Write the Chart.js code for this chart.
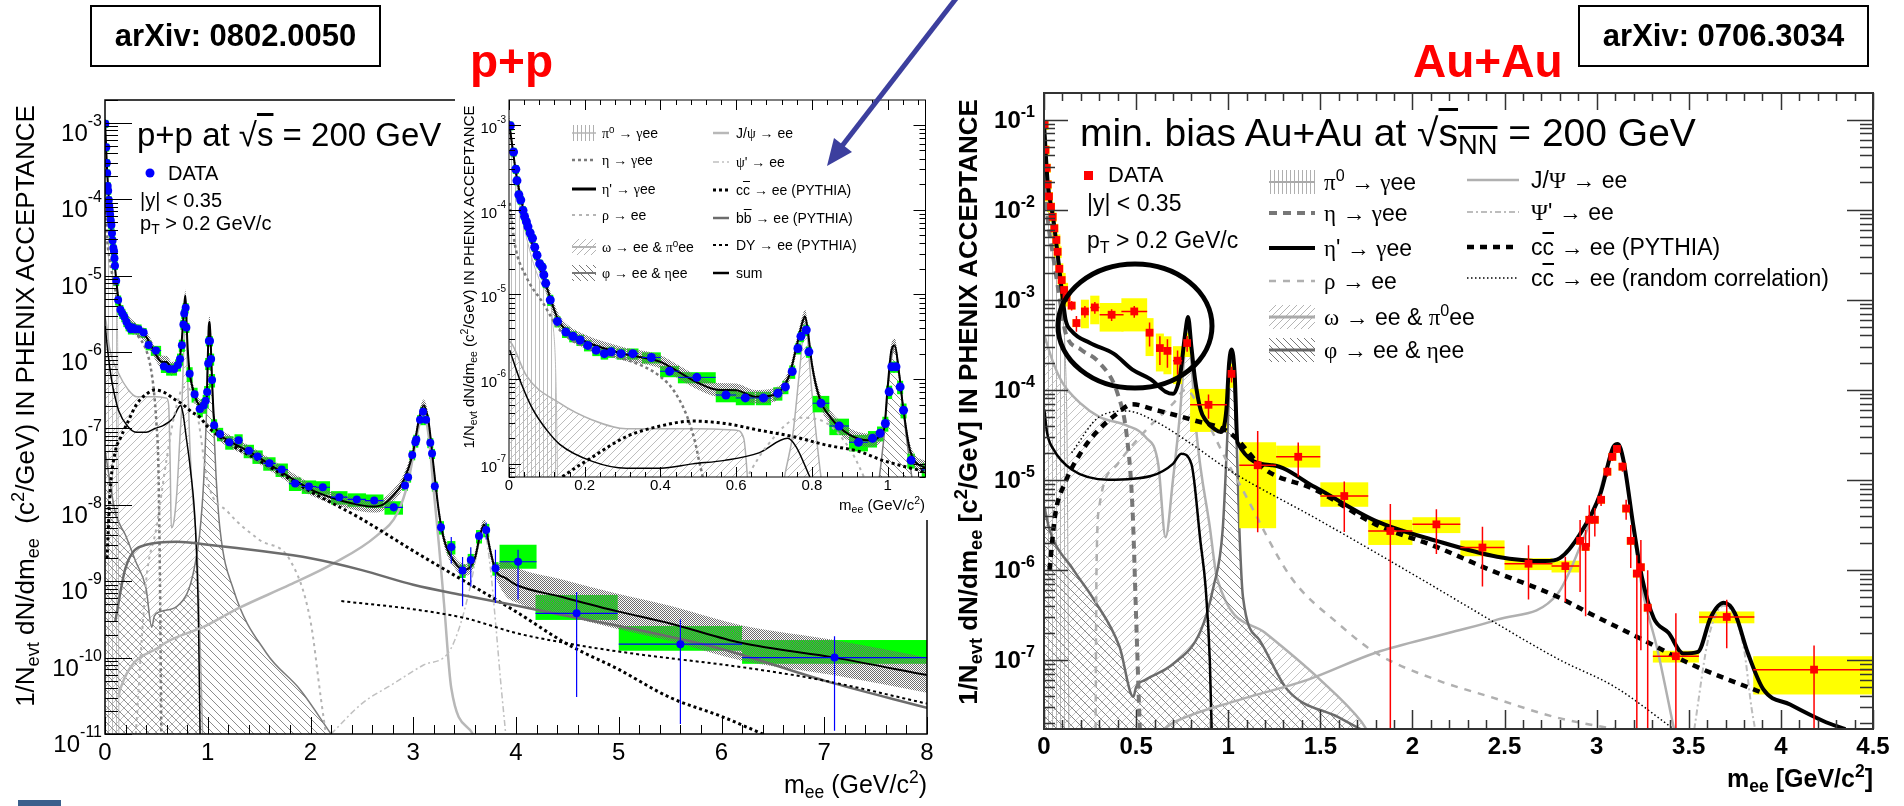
<!DOCTYPE html>
<html>
<head>
<meta charset="utf-8">
<title>Dielectron mass spectra in p+p and Au+Au at 200 GeV</title>
<script src="https://cdn.jsdelivr.net/npm/chart.js@4.4.1/dist/chart.umd.min.js"></script>
<style>
  body { margin: 0; background: #fff; }
  #page { position: relative; width: 1904px; height: 806px; overflow: hidden; background: #fff;
          font-family: "Liberation Sans", Arial, Helvetica, sans-serif; }
  #page canvas { position: absolute; }
  .t { position: absolute; white-space: nowrap; line-height: 1; color: #000; }
  .t sub { font-size: 0.7em; vertical-align: -0.3em; line-height: 0; }
  .t sup { font-size: 0.7em; vertical-align: 0.55em; line-height: 0; }
  .b { font-weight: bold; }
  .g { font-family: "Liberation Serif", "DejaVu Serif", serif; }
  .ol { text-decoration: overline; }
  .ref { position: absolute; border: 2px solid #000; box-sizing: border-box; display: flex;
         align-items: center; justify-content: center; font-weight: bold; font-size: 31px; }
  svg.sym { position: absolute; overflow: visible; }
</style>
</head>
<body>
<div id="page">
  <canvas id="ppMain" width="950" height="806" style="left:0;top:0"></canvas>
  <canvas id="ppInset" width="475" height="430" style="left:455px;top:90px"></canvas>
  <canvas id="auau" width="964" height="806" style="left:940px;top:0"></canvas>
  <svg width="1904" height="806" style="position:absolute;left:0;top:0">
    <defs>
      <pattern id="hv" patternUnits="userSpaceOnUse" width="4" height="4"><path d="M1.5 0V4" stroke="#b0b0b0" stroke-width="1"/></pattern>
      <pattern id="hf" patternUnits="userSpaceOnUse" width="7" height="7"><path d="M-1 8L8 -1" stroke="#b4b4b4" stroke-width="1"/></pattern>
      <pattern id="hb" patternUnits="userSpaceOnUse" width="7" height="7"><path d="M-1 -1L8 8" stroke="#777" stroke-width="1"/></pattern>
    </defs>
    <ellipse cx="1135" cy="326" rx="77" ry="62" fill="none" stroke="#000" stroke-width="5"/>
    <line x1="958" y1="-4" x2="842" y2="146" stroke="#3c3f9e" stroke-width="5"/>
    <polygon points="827,166 852,152 834,138" fill="#3c3f9e"/>
  </svg>
  <div class="ref" style="left:90px;top:5px;width:291px;height:62px">arXiv: 0802.0050</div>
  <div class="ref" style="left:1578px;top:5px;width:291px;height:62px">arXiv: 0706.3034</div>
  <div style="position:absolute;left:18px;top:800px;width:43px;height:6px;background:#3b5f8c"></div>
</div>
<script>
// ---------- axis ticks ----------
const ppMassTicks = [0, 1, 2, 3, 4, 5, 6, 7, 8];
const ppDecades = [-11, -10, -9, -8, -7, -6, -5, -4, -3];
const insetMassTicks = [0, 0.2, 0.4, 0.6, 0.8, 1];
const insetDecades = [-7, -6, -5, -4, -3];
const auMassTicks = [0, 0.5, 1, 1.5, 2, 2.5, 3, 3.5, 4, 4.5];
const auDecades = [-7, -6, -5, -4, -3, -2, -1];

// ---------- p+p data ----------
// [mass, yield, bin half width, stat error, syst error]; errors are fractions of the
// yield, a pair means [down, up]
const ppPoints = [
  [0.0035, 9.8e-4, 0.003, 0.03, 0.12], [0.012, 4.8e-4, 0.003, 0.03, 0.12],
  [0.018, 3.0e-4, 0.003, 0.03, 0.12], [0.021, 2.2e-4, 0.003, 0.03, 0.12],
  [0.026, 1.5e-4, 0.003, 0.03, 0.12], [0.031, 1.3e-4, 0.003, 0.03, 0.12],
  [0.037, 9.8e-5, 0.003, 0.03, 0.12], [0.041, 8.3e-5, 0.003, 0.03, 0.12],
  [0.046, 7.2e-5, 0.003, 0.03, 0.12], [0.050, 6.3e-5, 0.003, 0.03, 0.12],
  [0.056, 5.3e-5, 0.003, 0.03, 0.12], [0.062, 4.6e-5, 0.003, 0.03, 0.12],
  [0.068, 3.6e-5, 0.003, 0.03, 0.12], [0.074, 2.9e-5, 0.003, 0.03, 0.12],
  [0.081, 2.3e-5, 0.003, 0.03, 0.12], [0.088, 2.1e-5, 0.003, 0.03, 0.12],
  [0.092, 1.7e-5, 0.003, 0.03, 0.12], [0.097, 1.35e-5, 0.003, 0.03, 0.12],
  [0.109, 8.6e-6, 0.005, 0.04, 0.15], [0.128, 4.8e-6, 0.008, 0.04, 0.15],
  [0.150, 3.6e-6, 0.01, 0.04, 0.15], [0.169, 3.2e-6, 0.01, 0.04, 0.15],
  [0.188, 2.9e-6, 0.01, 0.04, 0.15], [0.208, 2.5e-6, 0.01, 0.04, 0.15],
  [0.230, 2.2e-6, 0.01, 0.04, 0.15], [0.252, 2.0e-6, 0.01, 0.04, 0.15],
  [0.270, 2.1e-6, 0.01, 0.04, 0.15], [0.296, 2.0e-6, 0.012, 0.04, 0.15],
  [0.327, 2.0e-6, 0.015, 0.05, 0.15], [0.376, 1.8e-6, 0.025, 0.05, 0.15],
  [0.424, 1.24e-6, 0.025, 0.06, 0.15], [0.496, 1.05e-6, 0.05, 0.06, 0.15],
  [0.573, 6.5e-7, 0.027, 0.08, 0.18], [0.624, 6.0e-7, 0.025, 0.08, 0.18],
  [0.672, 6.0e-7, 0.02, 0.08, 0.18], [0.710, 6.8e-7, 0.012, 0.08, 0.18],
  [0.730, 8.1e-7, 0.008, 0.08, 0.18], [0.748, 1.23e-6, 0.006, 0.06, 0.18],
  [0.763, 2.3e-6, 0.005, 0.05, 0.15], [0.771, 3.2e-6, 0.005, 0.05, 0.15],
  [0.785, 3.8e-6, 0.005, 0.05, 0.15], [0.792, 2.1e-6, 0.005, 0.05, 0.15],
  [0.824, 5.2e-7, 0.022, 0.08, 0.22], [0.872, 2.8e-7, 0.026, 0.1, 0.22],
  [0.923, 1.8e-7, 0.025, 0.1, 0.22], [0.960, 2.0e-7, 0.012, 0.1, 0.22],
  [0.980, 2.3e-7, 0.008, 0.1, 0.2], [0.994, 3.0e-7, 0.005, 0.1, 0.2],
  [1.004, 7.1e-7, 0.005, 0.06, 0.18], [1.011, 1.4e-6, 0.005, 0.05, 0.15],
  [1.022, 1.4e-6, 0.005, 0.05, 0.15], [1.033, 8.1e-7, 0.005, 0.06, 0.18],
  [1.042, 4.3e-7, 0.005, 0.08, 0.2], [1.062, 1.1e-7, 0.01, 0.1, 0.2],
  [1.12, 8.5e-8, 0.03, 0.08, 0.2], [1.21, 6.6e-8, 0.04, 0.08, 0.2],
  [1.30, 7.0e-8, 0.04, 0.08, 0.2], [1.40, 5.1e-8, 0.05, 0.08, 0.2],
  [1.485, 4.3e-8, 0.05, 0.08, 0.2], [1.60, 3.5e-8, 0.06, 0.1, 0.2],
  [1.72, 2.9e-8, 0.06, 0.1, 0.2], [1.85, 1.9e-8, 0.06, 0.1, 0.2],
  [1.985, 1.74e-8, 0.07, 0.1, 0.2], [2.12, 1.7e-8, 0.07, 0.1, 0.2],
  [2.28, 1.26e-8, 0.08, 0.1, 0.2], [2.45, 1.18e-8, 0.09, 0.1, 0.2],
  [2.62, 1.14e-8, 0.09, 0.1, 0.2], [2.81, 9.3e-9, 0.09, 0.12, 0.2],
  [2.92, 1.8e-8, 0.01, 0.1, 0.15], [2.95, 2.3e-8, 0.01, 0.1, 0.15],
  [2.99, 4.5e-8, 0.01, 0.08, 0.15], [3.02, 6.6e-8, 0.01, 0.08, 0.15],
  [3.03, 7.2e-8, 0.01, 0.08, 0.15], [3.066, 1.3e-7, 0.01, 0.06, 0.15],
  [3.095, 1.66e-7, 0.01, 0.06, 0.15], [3.125, 1.3e-7, 0.01, 0.06, 0.15],
  [3.166, 6.5e-8, 0.01, 0.08, 0.15], [3.183, 4.7e-8, 0.01, 0.08, 0.15],
  [3.21, 1.75e-8, 0.01, 0.1, 0.15], [3.27, 5.1e-9, 0.02, 0.15, 0.2],
  [3.37, 2.8e-9, 0.04, [0.39, 0.36], 0.2], [3.48, 1.38e-9, 0.03, [0.66, 0.5], 0.2],
  [3.56, 1.9e-9, 0.03, [0.55, 0.47], 0.2], [3.64, 3.9e-9, 0.02, 0.1, 0.2],
  [3.71, 4.7e-9, 0.03, 0.25, 0.2], [3.80, 1.48e-9, 0.03, [0.65, 0.75], 0.2],
  [4.02, 1.8e-9, 0.18, [0.68, 0.44], [0.19, 0.67]],
  [4.59, 3.8e-10, 0.40, [0.92, 0.9], [0.18, 0.74]],
  [5.6, 1.5e-10, 0.60, [0.91, 1.1], [0.18, 0.73]],
  [7.1, 1.0e-10, 0.90, [0.89, 0.9], [0.17, 0.7]],
];

// cocktail components, [mass, yield]
const ppPi0 = [[0, 1.1e-3], [0.003, 9e-4], [0.02, 2e-4], [0.05, 4e-5], [0.08, 1.5e-5], [0.1, 1e-5],
  [0.115, 5e-6], [0.125, 6e-7], [0.13, 1e-8], [0.135, 1e-11]];
const ppEta = [[0.002, 1.2e-4], [0.015, 4e-5], [0.046, 1.6e-5], [0.09, 7.9e-6], [0.134, 3.8e-6],
  [0.22, 2.2e-6], [0.31, 1.7e-6], [0.4, 1.07e-6], [0.44, 6.8e-7], [0.477, 3e-7], [0.5, 1.2e-7],
  [0.52, 3e-8], [0.535, 1e-9], [0.548, 1e-11]];
const ppEtaPrime = [[0.002, 2.2e-6], [0.028, 1e-6], [0.063, 4.4e-7], [0.1, 2.5e-7], [0.134, 1.7e-7],
  [0.22, 1.07e-7], [0.31, 8.9e-8], [0.4, 8.9e-8], [0.485, 1e-7], [0.57, 1.1e-7], [0.66, 1.35e-7],
  [0.736, 2e-7], [0.758, 1.6e-7], [0.79, 7.8e-8], [0.83, 3e-8], [0.88, 5e-9], [0.91, 3e-10], [0.925, 1e-11]];
const ppRho = [[0.3, 1e-11], [0.4, 1e-9], [0.5, 5e-9], [0.6, 4e-8], [0.68, 1.6e-7], [0.77, 3.5e-7],
  [0.84, 3e-7], [0.9, 1.5e-7], [1.0, 2e-8], [1.2, 8e-9], [1.5, 3.5e-9], [1.8, 1.9e-9], [2.0, 3e-10],
  [2.1, 3e-11], [2.15, 1e-11]];
const ppOmega = [[0.002, 2.8e-6], [0.01, 2.5e-6], [0.046, 1.1e-6], [0.134, 5.2e-7], [0.22, 3.3e-7],
  [0.31, 2.6e-7], [0.4, 2.6e-7], [0.5, 2.6e-7], [0.6, 2.5e-7], [0.62, 2e-7], [0.635, 3e-8],
  [0.645, 5e-9], [0.67, 6e-9], [0.7, 1.5e-8], [0.73, 8e-8], [0.75, 2.3e-7], [0.767, 1.2e-6],
  [0.782, 4.6e-6], [0.8, 7e-7], [0.824, 7e-8], [0.85, 1.5e-8], [0.9, 2e-9], [0.93, 1e-10], [0.95, 1e-11]];
const ppPhi = [[0.002, 5e-8], [0.1, 8e-9], [0.2, 4e-9], [0.3, 1.8e-9], [0.4, 8e-10], [0.455, 2.5e-10],
  [0.48, 3.5e-10], [0.54, 4e-10], [0.7, 4.7e-10], [0.8, 7e-10], [0.86, 1.3e-9], [0.92, 4e-9],
  [0.96, 2e-8], [0.99, 2e-7], [1.005, 1.2e-6], [1.019, 2.4e-6], [1.03, 1.2e-6], [1.05, 2e-7],
  [1.08, 2.5e-8], [1.12, 4.7e-9], [1.25, 7.8e-10], [1.57, 1.15e-10], [1.9, 3.8e-11], [2.2, 1e-11]];
const ppJpsi = [[0.13, 3e-11], [0.146, 3.8e-11], [0.535, 1.4e-10], [0.98, 2.6e-10], [1.31, 4.5e-10],
  [1.8, 9e-10], [2.22, 1.7e-9], [2.64, 3.9e-9], [2.85, 8e-9], [2.95, 2e-8], [3.05, 1e-7], [3.1, 1.6e-7],
  [3.15, 8e-8], [3.2, 1.5e-8], [3.25, 3e-9], [3.3, 5e-10], [3.37, 4e-11], [3.58, 1e-11]];
const ppPsiPrime = [[2.2, 1e-11], [2.5, 2.5e-11], [2.8, 4.5e-11], [3.1, 8e-11], [3.34, 1.15e-10],
  [3.45, 2.5e-10], [3.55, 8e-10], [3.65, 3.5e-9], [3.69, 4.5e-9], [3.75, 1.5e-9], [3.8, 3e-10],
  [3.85, 5e-11], [3.9, 1e-11]];
const ppCharm = [[0.02, 2e-9], [0.05, 1.5e-8], [0.1, 5e-8], [0.15, 7.5e-8], [0.22, 1.2e-7],
  [0.31, 2.1e-7], [0.4, 2.8e-7], [0.485, 3.2e-7], [0.57, 3e-7], [0.66, 2.5e-7], [0.75, 2.1e-7],
  [0.84, 1.66e-7], [0.925, 1.4e-7], [0.987, 1.1e-7], [1.2, 6.5e-8], [1.5, 3.8e-8], [2.0, 1.5e-8],
  [2.5, 6.5e-9], [3.0, 2.5e-9], [3.5, 1e-9], [4.0, 4e-10], [4.5, 1.5e-10], [5.0, 7e-11],
  [5.5, 3e-11], [6.0, 1.7e-11], [6.4, 1e-11]];
const ppBeauty = [[0.1, 3e-10], [0.2, 1.5e-9], [0.4, 3e-9], [0.7, 3.3e-9], [1.0, 3e-9], [1.5, 2.5e-9],
  [2.0, 2e-9], [2.5, 1.4e-9], [3.0, 9e-10], [3.5, 6.5e-10], [4.0, 4.8e-10], [4.5, 3.5e-10],
  [5.0, 2.6e-10], [6.0, 1.3e-10], [7.0, 5e-11], [8.0, 2.2e-11]];
const ppDrellYan = [[2.3, 5.5e-10], [3.0, 4.3e-10], [3.5, 3.3e-10], [4.0, 2.1e-10], [4.43, 1.6e-10],
  [5.0, 1.2e-10], [6.29, 7.2e-11], [7.0, 5e-11], [8.0, 2.5e-11]];
const ppSum = [[0, 1.1e-3], [0.02, 2.5e-4], [0.05, 6e-5], [0.1, 1.2e-5], [0.13, 5e-6], [0.15, 3.8e-6],
  [0.2, 2.8e-6], [0.3, 2.0e-6], [0.4, 1.6e-6], [0.45, 1.2e-6], [0.5, 9e-7], [0.55, 7.5e-7],
  [0.6, 7.4e-7], [0.65, 6.2e-7], [0.7, 6.5e-7], [0.74, 1.1e-6], [0.76, 2.5e-6], [0.775, 4.7e-6],
  [0.782, 5.5e-6], [0.79, 3.5e-6], [0.8, 1.5e-6], [0.82, 6e-7], [0.85, 3.5e-7], [0.9, 2.2e-7],
  [0.95, 1.9e-7], [0.99, 2.5e-7], [1.0, 8e-7], [1.01, 2.2e-6], [1.019, 2.5e-6], [1.03, 1.2e-6],
  [1.04, 5e-7], [1.06, 1.4e-7], [1.1, 9e-8], [1.2, 7e-8], [1.4, 5e-8], [1.6, 3.4e-8], [1.8, 2.3e-8],
  [2.0, 1.6e-8], [2.2, 1.25e-8], [2.4, 1.05e-8], [2.6, 9.5e-9], [2.7, 1e-8], [2.8, 1.3e-8],
  [2.9, 2e-8], [3.0, 5e-8], [3.05, 1.2e-7], [3.1, 2e-7], [3.15, 1.2e-7], [3.2, 3e-8], [3.25, 8e-9],
  [3.3, 3.5e-9], [3.4, 1.8e-9], [3.5, 1.4e-9], [3.6, 2e-9], [3.65, 4e-9], [3.69, 5.5e-9],
  [3.75, 2.5e-9], [3.8, 1.4e-9], [3.9, 1.1e-9], [4.0, 9e-10], [4.43, 6.3e-10], [5.0, 4e-10],
  [5.5, 2.8e-10], [6.2, 1.55e-10], [7.1, 1e-10], [8.0, 5.9e-11]];
// cocktail uncertainty: multiplicative spread of the band from the given mass on
const ppBandSpread = [[0, 1.2], [3.85, 1.7]];

// ---------- Au+Au data ----------
const auPoints = [
  [0.003, 8.7e-2, 0.003, 0.03, 0.12], [0.008, 4.6e-2, 0.003, 0.03, 0.12],
  [0.015, 2.9e-2, 0.003, 0.03, 0.12], [0.020, 1.9e-2, 0.003, 0.03, 0.12],
  [0.027, 1.4e-2, 0.003, 0.03, 0.12], [0.038, 1.07e-2, 0.003, 0.03, 0.12],
  [0.047, 8.3e-3, 0.003, 0.03, 0.12], [0.056, 6.2e-3, 0.003, 0.03, 0.12],
  [0.067, 4.6e-3, 0.003, 0.03, 0.15], [0.074, 3.4e-3, 0.003, 0.03, 0.15],
  [0.083, 2.2e-3, 0.003, 0.03, 0.15], [0.096, 1.65e-3, 0.004, 0.04, 0.2],
  [0.109, 1.28e-3, 0.004, 0.05, 0.2], [0.122, 1.05e-3, 0.005, 0.06, 0.2],
  [0.150, 8.6e-4, 0.012, 0.12, 0.1], [0.176, 5.5e-4, 0.012, 0.2, 0.1],
  [0.222, 7.4e-4, 0.02, 0.15, 0.35], [0.276, 8.2e-4, 0.025, 0.15, 0.35],
  [0.367, 6.8e-4, 0.065, 0.15, 0.35], [0.490, 7.4e-4, 0.07, 0.15, 0.4],
  [0.573, 4.3e-4, 0.015, 0.3, 0.45], [0.629, 2.9e-4, 0.02, 0.35, 0.45],
  [0.670, 2.7e-4, 0.02, 0.35, 0.45], [0.725, 2.1e-4, 0.025, 0.3, 0.45],
  [0.777, 3.3e-4, 0.01, 0.2, 0.3], [0.893, 6.8e-5, 0.1, 0.3, 0.5],
  [1.018, 1.5e-4, 0.015, 0.2, 0.3],
  [1.16, 1.45e-5, 0.1, [0.82, 1.4], 0.8], [1.38, 1.8e-5, 0.12, [0.4, 0.44], [0.24, 0.33]],
  [1.63, 6.6e-6, 0.13, [0.6, 0.45], [0.24, 0.42]], [1.88, 2.7e-6, 0.12, [1, 1], [0.3, 0.33]],
  [2.13, 3.2e-6, 0.13, [0.53, 0.47], 0.2], [2.38, 1.77e-6, 0.12, [0.63, 0.7], 0.2],
  [2.63, 1.17e-6, 0.13, 0.6, 0.15], [2.83, 1.1e-6, 0.075, [0.6, 0.27], 0.15],
  [2.91, 2.1e-6, 0.01, [0.73, 0.7], 0.1], [2.94, 1.8e-6, 0.01, [0.83, 0.55], 0.1],
  [2.96, 3.6e-6, 0.01, [0.5, 0.45], 0.1], [2.99, 3.6e-6, 0.01, 0.35, 0.1],
  [3.024, 6e-6, 0.01, 0.15, 0.1], [3.058, 1.23e-5, 0.01, 0.12, 0.1],
  [3.085, 1.8e-5, 0.01, 0.1, 0.1], [3.11, 2.2e-5, 0.01, 0.1, 0.1],
  [3.14, 1.4e-5, 0.01, 0.12, 0.1], [3.16, 4.8e-6, 0.01, 0.25, 0.1],
  [3.185, 2.1e-6, 0.01, 0.5, 0.1], [3.218, 9.1e-7, 0.01, [1, 0.6], 0.1],
  [3.24, 1.07e-6, 0.01, [0.88, 1], 0.1], [3.277, 3.8e-7, 0.01, [1, 1.6], 0.1],
  [3.43, 1.1e-7, 0.125, [1, 2], 0.15], [3.706, 3e-7, 0.15, 0.55, 0.15],
  [4.18, 7.8e-8, 0.33, [1, 0.85], [0.47, 0.41]],
];

const auPi0 = [[0, 9e-2], [0.02, 1.8e-2], [0.04, 8e-3], [0.06, 4e-3], [0.08, 1.8e-3], [0.1, 7e-4],
  [0.115, 2.5e-4], [0.125, 3e-5], [0.13, 1e-6], [0.135, 1.7e-8]];
const auEta = [[0.002, 2.5e-2], [0.02, 8e-3], [0.05, 3e-3], [0.08, 1.2e-3], [0.117, 4.3e-4],
  [0.2, 2.8e-4], [0.3, 2e-4], [0.4, 9e-5], [0.45, 3e-5], [0.48, 5e-6], [0.5, 3e-7], [0.52, 1.7e-8]];
const auEtaPrime = [[0.002, 6e-5], [0.017, 3.3e-5], [0.05, 2.2e-5], [0.15, 1.3e-5], [0.35, 1e-5],
  [0.58, 1.1e-5], [0.7, 1.5e-5], [0.745, 1.95e-5], [0.8, 1.5e-5], [0.85, 2e-6], [0.877, 6.5e-7],
  [0.9, 1e-7], [0.91, 1.7e-8]];
const auRho = [[0.28, 1.7e-8], [0.285, 1e-6], [0.3, 5e-6], [0.4, 1.5e-5], [0.55, 3.5e-5], [0.7, 7e-5],
  [0.77, 1e-4], [0.85, 6e-5], [1.0, 1.5e-5], [1.07, 8.3e-6], [1.34, 8.3e-7], [1.6, 2.5e-7],
  [1.8, 1.2e-7], [2.13, 6e-8], [2.42, 3.9e-8], [2.78, 2.3e-8], [3.1, 1.7e-8]];
const auOmega = [[0.002, 4e-4], [0.05, 2e-4], [0.1, 1.2e-4], [0.2, 7e-5], [0.3, 5e-5], [0.45, 4e-5],
  [0.55, 3e-5], [0.62, 1.5e-5], [0.66, 2.3e-6], [0.7, 1e-5], [0.74, 6e-5], [0.765, 3e-4],
  [0.782, 6e-4], [0.8, 2e-4], [0.83, 3e-5], [0.9, 3e-6], [0.94, 8e-7], [1.2, 2e-7], [1.5, 6e-8],
  [1.72, 2.1e-8], [1.75, 1.7e-8]];
const auPhi = [[0.002, 5e-6], [0.03, 2.8e-6], [0.16, 1e-6], [0.27, 4.7e-7], [0.41, 1.4e-7],
  [0.485, 3.9e-8], [0.5, 5e-8], [0.55, 6e-8], [0.7, 9e-8], [0.85, 2.1e-7], [0.92, 6.5e-7],
  [0.97, 2.8e-6], [0.995, 3e-5], [1.01, 1.8e-4], [1.019, 2.4e-4], [1.03, 1.5e-4], [1.045, 3e-5],
  [1.06, 3e-6], [1.08, 5e-7], [1.17, 1.66e-7], [1.32, 4.7e-8], [1.6, 2.3e-8], [1.72, 1.7e-8]];
const auJpsi = [[0.65, 1.7e-8], [0.7, 2e-8], [1.06, 3.6e-8], [1.43, 6e-8], [1.8, 1.2e-7], [2.2, 2e-7],
  [2.46, 2.8e-7], [2.79, 5.5e-7], [2.91, 1.8e-6], [3.0, 5.5e-6], [3.05, 1.3e-5], [3.1, 2.3e-5],
  [3.12, 2.4e-5], [3.15, 1.5e-5], [3.2, 2.8e-6], [3.245, 6.5e-7], [3.33, 1.3e-7], [3.42, 1.7e-8]];
const auPsiPrime = [[3.53, 1.7e-8], [3.6, 1.5e-7], [3.65, 3.3e-7], [3.69, 4e-7], [3.75, 3e-7],
  [3.8, 1.3e-7], [3.84, 3e-8], [3.86, 1.7e-8]];
const auCharm = [[0.03, 1e-6], [0.06, 4e-6], [0.117, 9.5e-6], [0.2, 2e-5], [0.28, 3.3e-5],
  [0.4, 5.5e-5], [0.48, 6.9e-5], [0.6, 6e-5], [0.81, 4.6e-5], [1.01, 3.3e-5], [1.2, 1.3e-5],
  [1.47, 7.8e-6], [1.8, 3.2e-6], [2.13, 1.8e-6], [2.42, 1e-6], [2.79, 5e-7], [2.96, 3.3e-7],
  [3.22, 1.8e-7], [3.51, 9e-8], [3.9, 4.3e-8]];
const auRandom = [[0.15, 2e-5], [0.3, 5e-5], [0.45, 5.8e-5], [0.6, 4.5e-5], [0.8, 2.5e-5],
  [1.0, 1.3e-5], [1.5, 3.5e-6], [2.0, 9e-7], [2.42, 2.8e-7], [2.8, 1e-7], [3.1, 5e-8], [3.42, 1.7e-8]];
const auSum = [[0, 9e-2], [0.02, 2e-2], [0.05, 8e-3], [0.08, 2.5e-3], [0.1, 1.1e-3], [0.117, 6e-4],
  [0.15, 4.5e-4], [0.25, 3.3e-4], [0.38, 2.5e-4], [0.48, 1.67e-4], [0.58, 1.3e-4], [0.66, 9.5e-5],
  [0.7, 9e-5], [0.74, 1.5e-4], [0.765, 4e-4], [0.782, 6.4e-4], [0.8, 3e-4], [0.82, 1.3e-4],
  [0.85, 6e-5], [0.877, 4.6e-5], [0.93, 3.6e-5], [0.96, 3.4e-5], [0.99, 6e-5], [1.005, 2e-4],
  [1.019, 2.8e-4], [1.035, 1.5e-4], [1.05, 2.6e-5], [1.24, 1.45e-5], [1.47, 8.3e-6], [1.8, 3.5e-6],
  [2.13, 2.1e-6], [2.46, 1.4e-6], [2.72, 1.25e-6], [2.8, 1.35e-6], [2.91, 2.5e-6], [3.02, 7e-6],
  [3.09, 2.3e-5], [3.115, 2.5e-5], [3.145, 1.66e-5], [3.2, 3e-6], [3.245, 8.4e-7], [3.31, 2.9e-7],
  [3.39, 2e-7], [3.47, 1.18e-7], [3.55, 1.23e-7], [3.62, 3e-7], [3.69, 4.3e-7], [3.75, 3.3e-7],
  [3.82, 1.2e-7], [3.905, 4.7e-8], [4.05, 3.2e-8], [4.23, 2.1e-8], [4.35, 1.7e-8]];

// ---------- styles ----------
const ppStyle = {
  pi0: { edge: '#bcbcbc', width: 1, hatch: ['v', '#bdbdbd', 4] },
  omega: { edge: '#b0b0b0', width: 1.5, hatch: ['/', '#bdbdbd', 8] },
  phi: { edge: '#7a7a7a', width: 1.5, hatch: ['\\', '#8c8c8c', 8] },
  eta: { color: '#7a7a7a', width: 2.5, dash: [3, 3] },
  etaP: { color: '#000', width: 1.5 },
  rho: { color: '#b4b4b4', width: 2, dash: [3, 4] },
  jpsi: { color: '#b8b8b8', width: 2.5 },
  psiP: { color: '#c0c0c0', width: 1.5, dash: [6, 3, 2, 3] },
  charm: { color: '#000', width: 3, dash: [3, 3] },
  beauty: { color: '#6c6c6c', width: 2.5 },
  dy: { color: '#000', width: 2, dash: [3, 3] },
  sum: { color: '#000', width: 2 },
};
const auStyle = {
  pi0: { edge: '#aaaaaa', width: 1, hatch: ['v', '#b4b4b4', 4] },
  omega: { edge: '#b0b0b0', width: 2.5, hatch: ['/', '#c4c4c4', 8] },
  phi: { edge: '#6c6c6c', width: 2.5, hatch: ['\\', '#858585', 9] },
  eta: { color: '#777', width: 4, dash: [8, 6] },
  etaP: { color: '#000', width: 2.5 },
  rho: { color: '#b0b0b0', width: 2.5, dash: [7, 7] },
  jpsi: { color: '#b0b0b0', width: 2.5 },
  psiP: { color: '#bdbdbd', width: 2, dash: [6, 3, 2, 3] },
  charm: { color: '#000', width: 4.5, dash: [7, 6] },
  random: { color: '#000', width: 1.5, dash: [1.5, 2.5] },
  sum: { color: '#000', width: 4 },
};

// ---------- helpers ----------
const xy = pts => pts.map(([x, y]) => ({ x, y }));

function tilePattern([kind, color, size]) {
  const c = document.createElement('canvas');
  c.width = size; c.height = size;
  const g = c.getContext('2d');
  g.strokeStyle = color; g.fillStyle = color; g.lineWidth = 1;
  g.beginPath();
  if (kind === 'v') { g.moveTo(0.5, 0); g.lineTo(0.5, size); }
  if (kind === '/') { g.moveTo(-1, size + 1); g.lineTo(size + 1, -1); }
  if (kind === '\\') { g.moveTo(-1, -1); g.lineTo(size + 1, size + 1); }
  g.stroke();
  if (kind === 'dots') { g.fillRect(0, 0, 1, 1); g.fillRect(1, 1, 1, 1); }
  return g.createPattern(c, 'repeat');
}

function line(pts, s) {
  return { data: xy(pts), borderColor: s.color, borderWidth: s.width, borderDash: s.dash || [],
           fill: false, pointRadius: 0 };
}
function area(pts, s) {
  return { data: xy(pts), borderColor: s.edge, borderWidth: s.width, fill: 'start',
           backgroundColor: tilePattern(s.hatch), pointRadius: 0 };
}
function band(pts, spread) {
  const f = m => spread.filter(([from]) => m >= from).pop()[1];
  const hi = pts.map(([m, v]) => [m, v * f(m)]);
  const lo = pts.map(([m, v]) => [m, v / f(m)]);
  return [
    { data: xy(hi), borderWidth: 0, pointRadius: 0, fill: '+1',
      backgroundColor: tilePattern(['dots', '#6e6e6e', 2]) },
    { data: xy(lo), borderWidth: 0, pointRadius: 0, fill: false },
  ];
}
function markers(points, color, style, radius) {
  return { data: points.map(p => ({ x: p[0], y: p[1] })), showLine: false, pointStyle: style,
           pointRadius: radius, pointBackgroundColor: color, pointBorderColor: color, pointBorderWidth: 0 };
}

// systematic boxes after the hatched components, error bars on top of everything
function errorBars(points, o) {
  const part = (e, k) => Array.isArray(e) ? e[k] : e;
  const yPix = (s, v) => v > 0 ? s.getPixelForValue(v) : s.bottom + 50;
  const clip = (ctx, a) => {
    ctx.save(); ctx.beginPath(); ctx.rect(a.left, a.top, a.right - a.left, a.bottom - a.top); ctx.clip();
  };
  return {
    id: 'errorBars',
    afterDatasetDraw(chart, args) {
      if (args.index !== o.boxesAfter) return;
      const { ctx, chartArea: a, scales: { x, y } } = chart;
      clip(ctx, a);
      ctx.fillStyle = o.boxColor;
      for (const [m, v, hw, , sys] of points) {
        let x0 = x.getPixelForValue(m - hw), x1 = x.getPixelForValue(m + hw);
        if (x1 - x0 < o.minBox) { const c = (x0 + x1) / 2; x0 = c - o.minBox / 2; x1 = c + o.minBox / 2; }
        const y0 = yPix(y, v * (1 + part(sys, 1))), y1 = yPix(y, v * (1 - part(sys, 0)));
        ctx.fillRect(x0, y0, x1 - x0, y1 - y0);
      }
      ctx.restore();
    },
    afterDatasetsDraw(chart) {
      const { ctx, chartArea: a, scales: { x, y } } = chart;
      clip(ctx, a);
      ctx.strokeStyle = o.barColor;
      ctx.lineWidth = o.barWidth;
      ctx.beginPath();
      for (const [m, v, hw, stat] of points) {
        const px = x.getPixelForValue(m), py = y.getPixelForValue(v);
        ctx.moveTo(px, yPix(y, v * (1 + part(stat, 1))));
        ctx.lineTo(px, yPix(y, v * (1 - part(stat, 0))));
        ctx.moveTo(x.getPixelForValue(m - hw), py);
        ctx.lineTo(x.getPixelForValue(m + hw), py);
      }
      ctx.stroke();
      ctx.restore();
    }
  };
}

// frame with inward ticks on the chosen sides, and "10^n" labels
function frameAxes(o) {
  return {
    id: 'frameAxes',
    beforeDraw(chart) {
      if (!o.background) return;
      const { ctx, width, height } = chart;
      ctx.save(); ctx.fillStyle = o.background; ctx.fillRect(0, 0, width, height); ctx.restore();
    },
    afterDraw(chart) {
      const { ctx, chartArea: a, scales: { x, y } } = chart;
      ctx.save();
      ctx.strokeStyle = o.frameColor;
      ctx.lineWidth = o.frameWidth;
      ctx.strokeRect(a.left, a.top, a.right - a.left, a.bottom - a.top);
      ctx.lineWidth = o.tickWidth;
      ctx.beginPath();
      const n = Math.round((x.max - x.min) / o.xStep);
      for (let i = 0; i <= n; i++) {
        const v = x.min + i * o.xStep;
        const px = Math.round(x.getPixelForValue(v)) + 0.5;
        const k = o.xMajor.some(m => Math.abs(m - v) < 1e-6) ? 0 : 1;
        if (o.ticks.b) { ctx.moveTo(px, a.bottom); ctx.lineTo(px, a.bottom - o.ticks.b[k]); }
        if (o.ticks.t) { ctx.moveTo(px, a.top); ctx.lineTo(px, a.top + o.ticks.t[k]); }
      }
      const d0 = Math.floor(Math.log10(y.min)), d1 = Math.ceil(Math.log10(y.max));
      for (let d = d0; d <= d1; d++) {
        for (let m = 1; m < 10; m++) {
          const v = m * Math.pow(10, d);
          if (v < y.min * 0.9999 || v > y.max * 1.0001) continue;
          const py = Math.round(y.getPixelForValue(v)) + 0.5;
          const k = m === 1 ? 0 : 1;
          if (o.ticks.l) { ctx.moveTo(a.left, py); ctx.lineTo(a.left + o.ticks.l[k], py); }
          if (o.ticks.r) { ctx.moveTo(a.right, py); ctx.lineTo(a.right - o.ticks.r[k], py); }
        }
      }
      ctx.stroke();

      const font = s => `${o.bold ? 'bold ' : ''}${s}px "Liberation Sans", Arial, sans-serif`;
      ctx.fillStyle = '#000';
      ctx.textBaseline = 'alphabetic';
      ctx.textAlign = 'center';
      ctx.font = font(o.fontSize);
      for (const v of o.xMajor) ctx.fillText(String(v), x.getPixelForValue(v), a.bottom + o.xLabelDy);
      ctx.textAlign = 'right';
      for (const d of o.decades) {
        const py = y.getPixelForValue(Math.pow(10, d));
        const right = a.left - o.yLabelGap;
        const exp = String(d);
        ctx.font = font(o.supSize);
        ctx.fillText(exp, right, py + o.supDy);
        const w = ctx.measureText(exp).width;
        ctx.font = font(o.fontSize);
        ctx.fillText('10', right - w, py + o.baseDy);
      }
      ctx.restore();
    }
  };
}

function makeChart(id, o) {
  const datasets = o.datasets.map((d, i, all) =>
    Object.assign({ order: all.length - i, cubicInterpolationMode: 'monotone' }, d));
  return new Chart(document.getElementById(id), {
    type: 'line',
    data: { datasets },
    options: {
      responsive: false, animation: false, devicePixelRatio: 1, events: [],
      layout: { padding: o.padding },
      plugins: { legend: { display: false }, tooltip: { enabled: false } },
      scales: {
        x: { type: 'linear', min: o.x[0], max: o.x[1], ticks: { display: false },
             grid: { display: false }, border: { display: false },
             afterFit: s => { s.height = o.axisSize[1]; } },
        y: { type: 'logarithmic', min: o.y[0], max: o.y[1], ticks: { display: false },
             grid: { display: false }, border: { display: false },
             afterFit: s => { s.width = o.axisSize[0]; } }
      }
    },
    plugins: o.plugins
  });
}

function ppDatasets(markerRadius) {
  const s = ppStyle;
  return [
    area(ppPi0, s.pi0), area(ppOmega, s.omega), area(ppPhi, s.phi),
    ...band(ppSum, ppBandSpread),
    line(ppEta, s.eta), line(ppEtaPrime, s.etaP), line(ppRho, s.rho), line(ppJpsi, s.jpsi),
    line(ppPsiPrime, s.psiP), line(ppCharm, s.charm), line(ppBeauty, s.beauty), line(ppDrellYan, s.dy),
    line(ppSum, s.sum),
    markers(ppPoints, '#0000ff', 'circle', markerRadius),
  ];
}

// ---------- p+p, full mass range ----------
makeChart('ppMain', {
  x: [0, 8], y: [1e-11, 2.0e-3], padding: { left: 0, top: 100, right: 23, bottom: 0 }, axisSize: [105, 72],
  datasets: ppDatasets(4),
  plugins: [
    errorBars(ppPoints, { boxesAfter: 2, boxColor: '#00ff00', barColor: '#0000ff', barWidth: 1.2, minBox: 6 }),
    frameAxes({ xMajor: ppMassTicks, xStep: 0.2, decades: ppDecades, frameColor: '#000', frameWidth: 1.5,
      tickWidth: 1, ticks: { b: [17, 9], l: [27, 13] }, fontSize: 24, supSize: 16, xLabelDy: 26,
      yLabelGap: 3, baseDy: 18, supDy: 3 })
  ]
});

// ---------- p+p, low-mass inset ----------
makeChart('ppInset', {
  x: [0, 1.1], y: [7.0e-8, 1.97e-3], padding: { left: 0, top: 10, right: 4, bottom: 0 }, axisSize: [54, 43],
  datasets: ppDatasets(4.5),
  plugins: [
    errorBars(ppPoints, { boxesAfter: 2, boxColor: '#00ff00', barColor: '#0000ff', barWidth: 1, minBox: 6 }),
    frameAxes({ background: '#fff', xMajor: insetMassTicks, xStep: 0.04, decades: insetDecades,
      frameColor: '#000', frameWidth: 1, tickWidth: 1, ticks: { b: [10, 5], t: [10, 5], l: [12, 6], r: [12, 6] },
      fontSize: 15, supSize: 10, xLabelDy: 13, yLabelGap: 3, baseDy: 8, supDy: -2 })
  ]
});

// ---------- Au+Au ----------
makeChart('auau', {
  x: [0, 4.5], y: [1.71e-8, 0.197], padding: { left: 0, top: 93, right: 31, bottom: 0 }, axisSize: [104, 77],
  datasets: [
    area(auPi0, auStyle.pi0), area(auOmega, auStyle.omega), area(auPhi, auStyle.phi),
    line(auEta, auStyle.eta), line(auEtaPrime, auStyle.etaP), line(auRho, auStyle.rho),
    line(auJpsi, auStyle.jpsi), line(auPsiPrime, auStyle.psiP), line(auRandom, auStyle.random),
    line(auCharm, auStyle.charm), line(auSum, auStyle.sum),
    markers(auPoints, '#ff0000', 'rect', 5.5),
  ],
  plugins: [
    errorBars(auPoints, { boxesAfter: 2, boxColor: '#ffff00', barColor: '#ff0000', barWidth: 1.5, minBox: 8 }),
    frameAxes({ xMajor: auMassTicks, xStep: 0.1, decades: auDecades, bold: true, frameColor: '#333',
      frameWidth: 2, tickWidth: 1.5, ticks: { b: [19, 9], t: [17, 8], l: [24, 11], r: [26, 13] },
      fontSize: 24, supSize: 16, xLabelDy: 25, yLabelGap: 9, baseDy: 8, supDy: -3 })
  ]
});

// ---------- text and legends ----------
const page = document.getElementById('page');
function addText(html, x, base, size, o = {}) {
  const el = document.createElement('div');
  el.className = 't' + (o.bold ? ' b' : '');
  el.innerHTML = html;
  el.style.fontSize = size + 'px';
  el.style.left = x + 'px';
  el.style.top = (base - 0.8465 * size) + 'px';
  if (o.color) el.style.color = o.color;
  if (o.align === 'right') el.style.transform = 'translateX(-100%)';
  page.appendChild(el);
}
function addVertical(html, cx, cy, size, bold) {
  const el = document.createElement('div');
  el.className = 't' + (bold ? ' b' : '');
  el.innerHTML = html;
  el.style.fontSize = size + 'px';
  el.style.left = cx + 'px';
  el.style.top = cy + 'px';
  el.style.transform = 'translate(-50%, -50%) rotate(-90deg)';
  page.appendChild(el);
}
function addSymbol(x, cy, w, h, s) {
  let svg = `<svg class="sym" width="${w}" height="${h}" style="left:${x}px;top:${cy - h / 2}px">`;
  if (s.fill) svg += `<rect width="${w}" height="${h}" fill="url(#${s.fill})"/>`;
  if (s.stroke) svg += `<line x1="0" y1="${h / 2}" x2="${w}" y2="${h / 2}" stroke="${s.stroke}" ` +
    `stroke-width="${s.width}" stroke-dasharray="${(s.dash || []).join(' ') || 'none'}"/>`;
  page.insertAdjacentHTML('beforeend', svg + '</svg>');
}
function addLegend(rows, o) {
  rows.forEach(([html, sym], i) => {
    const cy = o.rows[i];
    addSymbol(o.symX, cy, o.symW, o.symH, sym);
    addText(html, o.textX, cy + o.size * 0.36, o.size);
  });
}

const G = c => `<span class="g">${c}</span>`;
const arrow = '&nbsp;&#8594;&nbsp;';
const lineSym = s => ({ stroke: s.color, width: s.width, dash: s.dash });

// p+p
addText('p+p', 470, 77, 46, { bold: true, color: '#ff0000' });
addText(`p+p at &#8730;<span class="ol">s</span> = 200 GeV`, 137, 146, 33);
page.insertAdjacentHTML('beforeend',
  '<svg class="sym" width="10" height="10" style="left:145px;top:168px"><circle cx="5" cy="5" r="4.5" fill="#0000ff"/></svg>');
addText('DATA', 168, 180, 20);
addText('|y| &lt; 0.35', 140, 207, 20);
addText('p<sub>T</sub> &gt; 0.2 GeV/c', 140, 230, 20);
addText('m<sub>ee</sub> (GeV/c<sup>2</sup>)', 927, 793, 25, { align: 'right' });
addVertical('1/N<sub>evt</sub> dN/dm<sub>ee</sub> &nbsp;(c<sup>2</sup>/GeV) IN PHENIX ACCEPTANCE', 25, 406, 26);
addText('m<sub>ee</sub> (GeV/c<sup>2</sup>)', 925, 510, 15, { align: 'right' });
addVertical('1/N<sub>evt</sub> dN/dm<sub>ee</sub> (c<sup>2</sup>/GeV) IN PHENIX ACCEPTANCE', 468, 277, 15);

addLegend([
  [`${G('&pi;')}<sup>0</sup>${arrow}${G('&gamma;')}ee`, { fill: 'hv', stroke: '#b4b4b4', width: 1.5 }],
  [`${G('&eta;')}${arrow}${G('&gamma;')}ee`, lineSym(ppStyle.eta)],
  [`${G('&eta;')}'${arrow}${G('&gamma;')}ee`, { stroke: '#000', width: 3 }],
  [`${G('&rho;')}${arrow}ee`, lineSym(ppStyle.rho)],
  [`${G('&omega;')}${arrow}ee &amp; ${G('&pi;')}<sup>0</sup>ee`, { fill: 'hf', stroke: '#b4b4b4', width: 2 }],
  [`${G('&phi;')}${arrow}ee &amp; ${G('&eta;')}ee`, { fill: 'hb', stroke: '#777', width: 2 }],
], { symX: 572, symW: 24, symH: 16, textX: 602, size: 14, rows: [133, 160, 189, 215, 247, 273] });
addLegend([
  [`J/${G('&psi;')}${arrow}ee`, lineSym(ppStyle.jpsi)],
  [`${G('&psi;')}'${arrow}ee`, lineSym(ppStyle.psiP)],
  [`c<span class="ol">c</span>${arrow}ee (PYTHIA)`, lineSym(ppStyle.charm)],
  [`b<span class="ol">b</span>${arrow}ee (PYTHIA)`, lineSym(ppStyle.beauty)],
  [`DY${arrow}ee (PYTHIA)`, lineSym(ppStyle.dy)],
  ['sum', { stroke: '#000', width: 2.5 }],
], { symX: 713, symW: 16, symH: 16, textX: 736, size: 14, rows: [133, 162, 190, 218, 245, 273] });

// Au+Au
addText('Au+Au', 1413, 77, 46, { bold: true, color: '#ff0000' });
addText(`min. bias Au+Au at &#8730;<span class="ol">s<sub>NN</sub></span> = 200 GeV`, 1080, 146, 39);
page.insertAdjacentHTML('beforeend',
  '<svg class="sym" width="9" height="9" style="left:1083.5px;top:170.5px"><rect width="9" height="9" fill="#ff0000"/></svg>');
addText('DATA', 1108, 183, 22);
addText('|y| &lt; 0.35', 1087, 211, 23);
addText('p<sub>T</sub> &gt; 0.2 GeV/c', 1087, 248, 23);
addText('m<sub>ee</sub> [GeV/c<sup>2</sup>]', 1873, 787, 25, { align: 'right', bold: true });
addVertical('1/N<sub>evt</sub> dN/dm<sub>ee</sub> [c<sup>2</sup>/GeV] IN PHENIX ACCEPTANCE', 968, 402, 26, true);

addLegend([
  [`${G('&pi;')}<sup>0</sup>${arrow}${G('&gamma;')}ee`, { fill: 'hv', stroke: '#aaa', width: 2 }],
  [`${G('&eta;')}${arrow}${G('&gamma;')}ee`, lineSym(auStyle.eta)],
  [`${G('&eta;')}'${arrow}${G('&gamma;')}ee`, { stroke: '#000', width: 4 }],
  [`${G('&rho;')}${arrow}ee`, lineSym(auStyle.rho)],
  [`${G('&omega;')}${arrow}ee &amp; ${G('&pi;')}<sup>0</sup>ee`, { fill: 'hf', stroke: '#aaa', width: 3 }],
  [`${G('&phi;')}${arrow}ee &amp; ${G('&eta;')}ee`, { fill: 'hb', stroke: '#666', width: 3 }],
], { symX: 1269, symW: 46, symH: 24, textX: 1324, size: 23, rows: [182, 213, 248, 281, 317, 350] });
addLegend([
  [`J/${G('&Psi;')}${arrow}ee`, lineSym(auStyle.jpsi)],
  [`${G('&Psi;')}'${arrow}ee`, lineSym(auStyle.psiP)],
  [`c<span class="ol">c</span>${arrow}ee (PYTHIA)`, lineSym(auStyle.charm)],
  [`c<span class="ol">c</span>${arrow}ee (random correlation)`, lineSym(auStyle.random)],
], { symX: 1467, symW: 52, symH: 24, textX: 1531, size: 23, rows: [180, 212, 247, 278] });
</script>
</body>
</html>
